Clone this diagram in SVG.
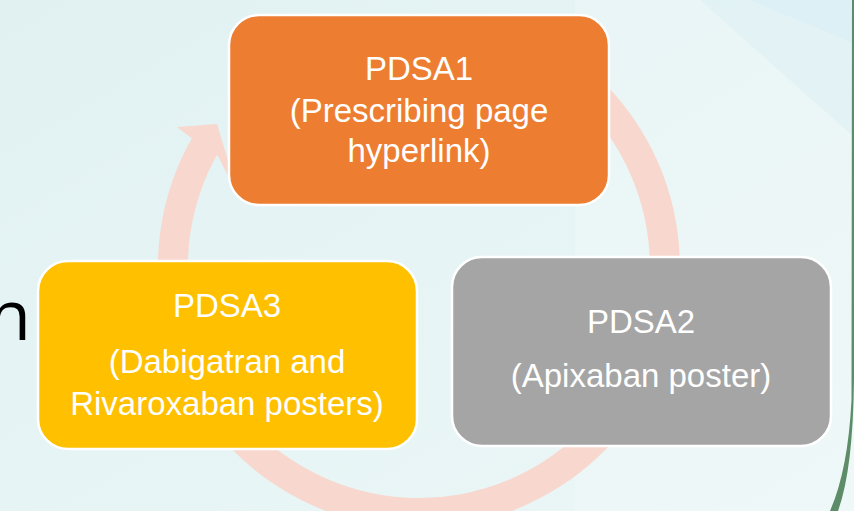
<svg xmlns="http://www.w3.org/2000/svg" width="854" height="511" viewBox="0 0 854 511">
<defs>
<style>
.box{stroke:#ffffff;stroke-width:2.5}
.t{font-family:"Liberation Sans",Arial,sans-serif;font-size:33px;fill:#ffffff;text-anchor:middle}
</style>
<linearGradient id="bg" x1="0" y1="0" x2="1" y2="1">
<stop offset="0" stop-color="#e1f1f2"/>
<stop offset="1" stop-color="#ecf7f7"/>
</linearGradient>
</defs>
<rect x="0" y="0" width="854" height="511" fill="url(#bg)"/>
<polygon points="575,0 854,0 854,511 575,511" fill="#ffffff" opacity="0.18"/>
<polygon points="700,0 854,0 854,137" fill="#dcf0f5" opacity="0.6"/>
<polygon points="750,0 854,0 854,43" fill="#d9eef6" opacity="0.6"/>
<text x="-12" y="340" font-family="'Open Sans','Liberation Sans',sans-serif" font-size="70" fill="#000000">n</text>
<path d="M852 0 L854 0 L854 380 Q853 470 838 511 L830 511 Q848 470 851.5 400 Z" fill="#5d8c69"/>
<g id="connectors">
<path d="M577 78.6 A246 246 0 1 1 205 145.5" fill="none" stroke="#f8d8ce" stroke-width="30"/>
<polygon points="190,137 177,127 217,124 240,200 218,156" fill="#f8d8ce"/>
</g>
<g id="pdsa1">
<rect class="box" x="229" y="15" width="380" height="190" rx="30" fill="#ed7d31"/>
<text class="t" x="419" y="80">PDSA1</text>
<text class="t" x="419" y="122">(Prescribing page</text>
<text class="t" x="419" y="162">hyperlink)</text>
</g>
<g id="pdsa2">
<rect class="box" x="452" y="257" width="379" height="189" rx="30" fill="#a5a5a5"/>
<text class="t" x="641" y="333">PDSA2</text>
<text class="t" x="641" y="387">(Apixaban poster)</text>
</g>
<g id="pdsa3">
<rect class="box" x="38" y="261" width="379" height="188" rx="30" fill="#ffc000"/>
<text class="t" x="227" y="317">PDSA3</text>
<text class="t" x="227" y="373">(Dabigatran and</text>
<text class="t" x="227" y="415">Rivaroxaban posters)</text>
</g>
</svg>
